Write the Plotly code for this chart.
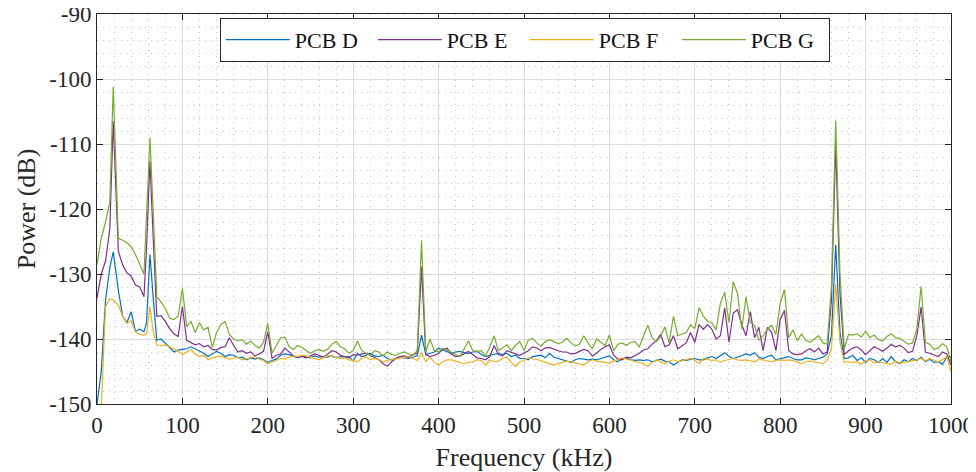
import plotly.graph_objects as go

# frequency axis (kHz) - 5 kHz steps, with the low-frequency peaks sampled where they sit
freq_khz = [
    0, 5, 10, 15, 19, 25, 30, 35, 40, 45, 50, 55, 58, 62, 66,
    70, 75, 80, 85, 90, 95, 100,
    105, 110, 115, 120, 125, 130, 135, 140, 145, 150,
    155, 160, 165, 170, 175, 180, 185, 190, 195, 200,
    205, 210, 215, 220, 225, 230, 235, 240, 245, 250,
    255, 260, 265, 270, 275, 280, 285, 290, 295, 300,
    305, 310, 315, 320, 325, 330, 335, 340, 345, 350,
    355, 360, 365, 370, 375, 380, 385, 390, 395, 400,
    405, 410, 415, 420, 425, 430, 435, 440, 445, 450,
    455, 460, 465, 470, 475, 480, 485, 490, 495, 500,
    505, 510, 515, 520, 525, 530, 535, 540, 545, 550,
    555, 560, 565, 570, 575, 580, 585, 590, 595, 600,
    605, 610, 615, 620, 625, 630, 635, 640, 645, 650,
    655, 660, 665, 670, 675, 680, 685, 690, 695, 700,
    705, 710, 715, 720, 725, 730, 735, 740, 745, 750,
    755, 760, 765, 770, 775, 780, 785, 790, 795, 800,
    805, 810, 815, 820, 825, 830, 835, 840, 845, 850,
    855, 860, 865, 870, 875, 880, 885, 890, 895, 900,
    905, 910, 915, 920, 925, 930, 935, 940, 945, 950,
    955, 960, 965, 970, 975, 980, 985, 990, 995, 1000,
]

pcb_d = [
    -150.0, -145.0, -134.0, -129.0, -126.6, -132.5, -136.5, -137.5, -135.8, -138.8, -138.5, -138.9, -137.5, -127.0, -134.0,
    -140.2, -140.0, -140.6, -141.3, -142.0, -141.7, -141.6,
    -141.5, -141.2, -141.5, -141.8, -142.2, -142.7, -142.3, -141.9, -142.2, -142.7,
    -142.4, -142.5, -142.9, -142.8, -143.2, -142.9, -143.1, -142.9, -143.2, -143.6,
    -143.3, -143.1, -142.5, -142.3, -142.4, -142.7, -142.9, -142.6, -142.7, -142.9,
    -142.6, -142.8, -142.7, -142.8, -142.6, -142.9, -142.7, -142.8, -142.7, -143.4,
    -142.2, -142.7, -142.5, -142.2, -142.6, -142.7, -142.5, -143.0, -143.2, -143.0,
    -142.7, -142.9, -143.0, -142.8, -142.6, -139.4, -142.4, -142.2, -142.0, -141.4,
    -141.7, -142.0, -142.2, -142.0, -141.9, -142.1, -142.2, -142.0, -141.9, -142.4,
    -142.7, -142.5, -142.3, -142.2, -142.4, -142.2, -142.7, -142.5, -143.0, -143.0,
    -143.2, -142.7, -142.6, -142.5, -142.9, -142.2, -142.8, -143.0, -143.2, -143.4,
    -143.6, -143.2, -143.0, -143.1, -143.2, -143.1, -143.2, -143.0, -142.8, -142.6,
    -143.2, -143.5, -143.0, -142.9, -143.2, -143.3, -143.2, -143.3, -143.2, -143.5,
    -143.3, -143.1, -143.4, -143.5, -144.0, -143.6, -143.2, -143.3, -143.2, -143.0,
    -143.2, -143.2, -142.9, -142.7, -143.0, -142.5, -142.1, -142.7, -143.0, -142.8,
    -142.5, -142.3, -142.5, -142.1, -142.8, -143.0, -142.7, -142.5, -143.2, -143.0,
    -142.8, -142.7, -143.0, -143.2, -143.2, -142.9, -143.0, -143.2, -143.0, -142.8,
    -142.3, -139.5, -125.5, -139.0, -143.0, -142.9, -142.5, -143.3, -142.9, -143.6,
    -143.0, -143.2, -143.6, -143.0, -143.6, -142.7, -143.5, -143.8, -143.2, -143.5,
    -143.0, -143.3, -142.8, -143.5, -143.1, -143.6, -143.5, -143.9, -142.8, -142.7,
]

pcb_e = [
    -133.7, -130.0, -128.0, -123.0, -106.5, -126.5, -128.6, -129.8, -130.3, -131.7, -132.0, -133.5, -126.0, -112.6, -125.0,
    -136.5, -136.4, -137.3, -138.4, -139.2, -139.6, -135.0,
    -140.2, -140.5, -140.9, -140.7, -141.2, -141.0, -141.6, -141.7, -141.3, -141.2,
    -139.8, -141.0, -142.0, -141.8, -142.2, -142.0, -142.6, -142.3, -141.9, -138.9,
    -143.0, -142.5, -142.3, -141.4, -142.0, -142.6, -142.8, -142.7, -142.9, -142.6,
    -142.3, -142.5, -142.8, -142.3, -141.8, -142.0, -142.5, -142.7, -142.9, -142.4,
    -142.5, -142.3, -142.2, -142.5, -142.9, -143.2, -143.8, -144.2, -143.5, -143.0,
    -142.7, -142.6, -142.9, -142.4, -142.2, -128.9, -142.4, -142.7, -142.5, -142.2,
    -141.6, -141.4, -142.3, -142.7, -142.6, -142.2, -141.9, -142.4, -142.9, -143.0,
    -143.2, -142.7, -141.0, -142.4, -142.6, -141.8, -142.0, -142.3, -142.5, -142.2,
    -141.8, -141.2, -141.4, -141.8, -141.4, -141.3, -141.6, -141.8, -142.0, -142.0,
    -142.3, -142.2, -141.9, -141.6, -141.8, -142.6, -142.2, -141.6, -141.2, -140.9,
    -142.5, -143.1, -143.2, -142.8, -142.9, -142.6, -142.2, -141.7, -141.5, -140.8,
    -140.3, -139.3, -141.2, -140.9, -139.5, -141.5, -141.0, -140.6, -139.0, -140.5,
    -137.8, -138.5, -137.8, -138.5, -140.0, -139.5, -135.2, -140.5, -136.0, -135.5,
    -137.8, -139.5, -135.8, -139.8, -138.2, -141.8, -138.2, -139.0, -141.8, -137.0,
    -135.6, -141.8, -142.3, -142.4, -142.3, -141.8, -141.5, -142.0, -141.4, -142.3,
    -142.0, -134.0, -109.8, -133.0, -142.4, -141.8, -141.4, -141.2, -141.7, -142.4,
    -141.8, -141.2, -141.5, -141.9, -141.4, -140.8, -141.2, -141.0, -141.4, -142.1,
    -141.9, -139.5, -135.1, -142.0, -142.2, -142.5, -142.7, -142.0, -142.3, -144.0,
]

pcb_f = [
    -156.0, -150.5, -135.0, -133.8, -134.0, -134.8, -136.5, -137.6, -137.2, -138.9, -139.3, -139.4, -139.2, -135.0, -139.0,
    -140.9, -141.0, -140.9, -141.2, -141.5, -141.9, -142.4,
    -142.0, -141.6, -142.3, -142.7, -142.5, -143.2, -142.9, -142.8, -142.6, -142.9,
    -143.1, -143.0, -142.8, -143.2, -143.0, -142.9, -142.7, -143.1, -143.3, -143.8,
    -143.6, -143.3, -143.0, -143.1, -142.8, -142.6, -142.7, -142.5, -142.6, -142.8,
    -142.9, -143.2, -142.9, -142.5, -142.7, -142.8, -143.0, -142.9, -143.2, -143.3,
    -143.5, -143.0, -142.7, -143.2, -143.0, -143.2, -143.5, -143.3, -143.2, -143.0,
    -142.9, -142.8, -142.7, -143.0, -143.3, -142.1, -143.5, -142.8, -143.6, -144.0,
    -143.5, -143.2, -143.2, -143.4, -143.6, -143.8, -143.6, -143.5, -143.2, -143.3,
    -144.0, -143.2, -143.5, -143.4, -143.0, -142.8, -143.6, -144.2, -143.5, -143.3,
    -142.9, -143.0, -143.2, -143.3, -143.6, -143.8, -144.0, -143.8, -143.6, -143.4,
    -143.5, -143.7, -143.8, -144.0, -143.5, -143.2, -143.4, -143.5, -143.6, -143.7,
    -143.4, -143.2, -142.9, -143.1, -143.3, -143.4, -143.6, -143.8, -144.2, -143.6,
    -143.2, -143.5, -143.8, -143.4, -143.2, -143.5, -143.3, -143.2, -143.0, -143.3,
    -143.8, -143.0, -143.2, -143.3, -143.2, -143.6, -143.3, -143.2, -143.0, -143.2,
    -143.3, -143.2, -143.4, -143.5, -143.1, -143.2, -143.3, -143.5, -143.3, -143.2,
    -143.3, -143.2, -143.3, -143.6, -143.8, -143.5, -143.4, -143.5, -143.7, -143.8,
    -143.3, -141.5, -131.6, -140.5, -143.6, -143.5, -143.6, -143.5, -143.9, -143.4,
    -143.2, -143.7, -143.5, -143.6, -143.8, -143.9, -143.4, -143.7, -143.6, -143.5,
    -143.3, -143.2, -143.0, -143.4, -143.0, -143.2, -143.5, -143.2, -142.7, -145.0,
]

pcb_g = [
    -128.5, -124.5, -122.0, -119.0, -101.2, -124.5, -124.8, -125.2, -125.8, -127.0, -128.5, -130.0, -121.0, -109.0, -121.0,
    -133.5, -134.3, -135.3, -136.8, -137.0, -136.5, -132.2,
    -138.1, -137.3, -139.0, -137.5, -138.6, -138.2, -141.3, -139.0, -137.8, -137.3,
    -139.3, -140.0, -140.3, -140.1, -140.8, -140.3, -141.0, -141.4, -140.5, -137.6,
    -142.2, -141.0, -139.8, -139.7, -141.2, -141.6, -141.0, -141.3, -141.8, -142.2,
    -141.8, -141.6, -141.9, -141.6, -140.8, -140.4, -141.2, -141.5, -142.2, -141.8,
    -140.3, -141.8, -142.2, -142.5, -141.8, -142.0, -142.6, -142.0, -142.4, -142.5,
    -142.2, -142.0, -142.3, -142.5, -141.8, -124.8, -142.0, -140.0, -141.8, -142.0,
    -141.4, -141.7, -142.0, -142.3, -142.7, -141.5, -140.3, -141.8, -141.9, -141.8,
    -142.6, -141.2, -139.5, -141.8, -141.3, -140.9, -141.8, -141.0, -140.4, -141.8,
    -140.2, -139.9, -140.6, -141.1, -140.4, -140.1, -140.4, -140.7, -140.5, -139.9,
    -140.6, -141.1, -140.8, -139.5, -140.6, -141.5, -140.0, -140.5, -141.0, -139.4,
    -141.8, -140.8, -140.6, -141.0, -140.5, -140.4, -141.2, -139.5, -137.9, -139.8,
    -140.4, -139.6, -138.1, -140.6, -136.5, -139.5, -139.3, -139.0, -137.8, -138.4,
    -135.2, -136.5, -137.3, -137.5, -138.6, -134.5, -132.8, -137.5, -131.2, -133.0,
    -138.5, -133.5, -137.5, -137.9, -140.2, -139.5, -138.5, -137.9, -139.3, -134.5,
    -132.4, -139.8, -138.6, -140.3, -139.2, -140.2, -140.5, -140.0, -139.5, -140.6,
    -140.8, -132.0, -106.4, -130.0, -141.5, -139.3, -139.4, -139.2, -139.7, -138.8,
    -139.8, -139.4, -140.1, -140.3, -139.6, -139.2, -139.8, -139.9, -140.4, -140.8,
    -140.6, -138.5, -131.9, -140.5, -140.8, -141.6, -141.4, -140.7, -141.2, -143.5,
]

series_names = ["PCB D", "PCB E", "PCB F", "PCB G"]
series_colors = ["#0072BD", "#7E2F8E", "#EDB120", "#77AC30"]

x_ticks = [0, 100, 200, 300, 400, 500, 600, 700, 800, 900, 1000]
y_ticks = [-150, -140, -130, -120, -110, -100, -90]
y_tick_text = ["-150", "-140", "-130", "-120", "-110", "-100", "-90"]

FONT = "Liberation Serif, Times New Roman, serif"
AXIS_COLOR = "#262626"

fig = go.Figure()
for name, vals, col in zip(series_names, [pcb_d, pcb_e, pcb_f, pcb_g], series_colors):
    fig.add_trace(go.Scatter(
        x=freq_khz, y=vals, mode="lines", name=name,
        line=dict(color=col, width=1.2),
    ))

axis_common = dict(
    automargin=False, ticklabeloverflow="allow",
    showline=True, linecolor=AXIS_COLOR, linewidth=1, mirror="ticks",
    ticks="inside", ticklen=6, tickcolor=AXIS_COLOR, tickwidth=1,
    showgrid=True, gridcolor="#dcdcdc", gridwidth=1, zeroline=False,
    tickfont=dict(family=FONT, size=23, color=AXIS_COLOR),
)
minor_grid = dict(showgrid=True, gridcolor="#c6c6c6", griddash="1px,5px", gridwidth=1)

# page body keeps its default 8px margin, so the figure is sized to fit inside the window
fig.update_layout(
    template="none",
    width=968, height=464,
    margin=dict(l=89, r=25, t=6, b=68),
    paper_bgcolor="white", plot_bgcolor="white",
    font=dict(family=FONT, color=AXIS_COLOR),
    xaxis=dict(
        range=[0, 1000], tickvals=x_ticks,
        title=dict(text="Frequency (kHz)", font=dict(family=FONT, size=26, color=AXIS_COLOR)),
        minor=dict(dtick=20, **minor_grid),
        **axis_common,
    ),
    yaxis=dict(
        range=[-150, -90], tickvals=y_ticks, ticktext=y_tick_text,
        title=dict(text="Power (dB)", font=dict(family=FONT, size=26, color=AXIS_COLOR)),
        minor=dict(dtick=2, **minor_grid),
        **axis_common,
    ),
    legend=dict(
        orientation="h", x=0.501, xanchor="center", y=0.99, yanchor="top",
        bgcolor="white", bordercolor=AXIS_COLOR, borderwidth=1,
        font=dict(family=FONT, size=22, color="#111111"),
        itemwidth=64, entrywidth=73, entrywidthmode="pixels",
    ),
    showlegend=True,
)

fig.write_html("out.html")
